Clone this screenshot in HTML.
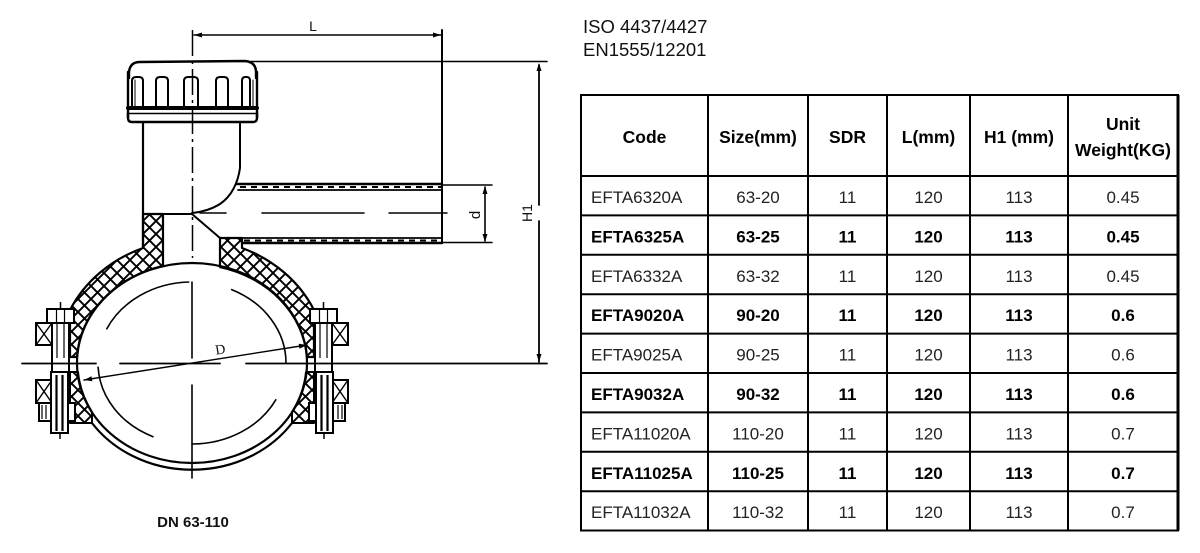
<!DOCTYPE html>
<html><head><meta charset="utf-8">
<style>
html,body{margin:0;padding:0;background:#fff;}
svg{display:block;}
</style></head><body>
<svg width="1200" height="553" viewBox="0 0 1200 553" xmlns="http://www.w3.org/2000/svg">
<defs>
<pattern id="xh" patternUnits="userSpaceOnUse" width="13" height="13">
<path d="M-1,-1 L14,14 M14,-1 L-1,14" stroke="#000" stroke-width="1.9"/>
</pattern>
</defs>
<rect width="1200" height="553" fill="#fff"/>

<!-- ===== DRAWING ===== -->
<g fill="none" stroke="#000" stroke-linecap="round" stroke-linejoin="round">

<!-- saddle hatched parts -->
<path d="M143,214 L163,214 L163,266 A115,100 0 0,0 77,357 L70,357 L70,310 A135,123 0 0,1 143,248 Z" fill="url(#xh)" stroke-width="2.2"/>
<path d="M220,238 L242,238 L242,248 A135,123 0 0,1 314,310 L314,357 L307,357 A115,100 0 0,0 220,267 Z" fill="url(#xh)" stroke-width="2.2"/>

<!-- lower strap hatched parts -->
<path d="M70,372 L78,372 A115,100 0 0,0 92,412 L92,423 L70,423 Z" fill="url(#xh)" stroke-width="2"/>
<path d="M314,372 L306,372 A115,100 0 0,1 292,412 L292,423 L314,423 Z" fill="url(#xh)" stroke-width="2"/>

<!-- main pipe -->
<ellipse cx="192" cy="363" rx="115" ry="100" stroke-width="2.2"/>
<!-- lower strap outer -->
<path d="M92,423 A121,107 0 0,0 292,423" stroke-width="2.2"/>

<!-- hidden arcs -->
<path d="M106.8,328.8 A94,81 0 0,1 188.7,282" stroke-width="1.6"/>
<path d="M231.7,289.6 A94,81 0 0,1 286,363" stroke-width="1.6"/>
<path d="M98.1,367.2 A94,81 0 0,0 153,436.7" stroke-width="1.6"/>
<path d="M275.8,399.8 A94,81 0 0,1 192,444" stroke-width="1.6"/>

<!-- centerlines -->
<line x1="192.5" y1="30" x2="192.5" y2="258" stroke-width="1.5" stroke-dasharray="26 5 3 5" stroke-linecap="butt"/>
<line x1="192" y1="282" x2="192" y2="358" stroke-width="1.6"/>
<line x1="192" y1="385" x2="192" y2="478" stroke-width="1.6"/>
<line x1="22" y1="363.5" x2="96" y2="363.5" stroke-width="1.8"/>
<line x1="120" y1="363.5" x2="220" y2="363.5" stroke-width="1.8"/>
<line x1="246" y1="363.5" x2="547" y2="363.5" stroke-width="1.8"/>
<line x1="200" y1="213" x2="226" y2="213" stroke-width="1.5"/>
<line x1="262" y1="213" x2="364" y2="213" stroke-width="1.5"/>
<line x1="389" y1="213" x2="447" y2="213" stroke-width="1.5"/>

<!-- cap -->
<path d="M129,78 L129,72 Q130,62 140,62 L245,61 Q256,62 256,72 L256,78" stroke-width="2.4"/>
<line x1="128" y1="72" x2="128" y2="118" stroke-width="2.4"/>
<line x1="257" y1="72" x2="257" y2="118" stroke-width="2.4"/>
<line x1="128" y1="108" x2="257" y2="108" stroke-width="4"/>
<line x1="128" y1="113.5" x2="257" y2="113.5" stroke-width="1.6"/>
<path d="M128,113 L128,118 Q128,122 132,122 L253,122 Q257,122 257,118 L257,113" stroke-width="2.4"/>
<path d="M132,107 L132,81 Q132,77 136,77 L139,77 Q143,77 143,81 L143,107" stroke-width="2"/>
<path d="M156,107 L156,81 Q156,77 160,77 L164,77 Q168,77 168,81 L168,107" stroke-width="2"/>
<path d="M184,107 L184,81 Q184,77 188,77 L194,77 Q198,77 198,81 L198,107" stroke-width="2"/>
<path d="M216,107 L216,81 Q216,77 220,77 L224,77 Q228,77 228,81 L228,107" stroke-width="2"/>
<path d="M242,107 L242,81 Q242,77 245,77 L247,77 Q250,77 250,81 L250,107" stroke-width="2"/>
<line x1="135" y1="80" x2="135" y2="107" stroke-width="1"/>
<line x1="253" y1="80" x2="253" y2="107" stroke-width="1"/>

<!-- stem -->
<line x1="143" y1="122" x2="143" y2="248" stroke-width="2.2"/>
<path d="M240,122 L240,168 C238,182 232,196 220,204 C212,209 202,212 192,213" stroke-width="2"/>
<line x1="143" y1="214" x2="192" y2="214" stroke-width="2"/>
<line x1="192" y1="214" x2="220" y2="238" stroke-width="2"/>

<!-- outlet -->
<line x1="236" y1="184" x2="442" y2="184" stroke-width="2.4"/>
<line x1="238" y1="190" x2="442" y2="190" stroke-width="1.8"/>
<line x1="240" y1="187" x2="442" y2="187" stroke-width="2" stroke-dasharray="6 5" stroke-linecap="butt"/>
<line x1="220" y1="238" x2="442" y2="238" stroke-width="1.8"/>
<line x1="242" y1="243" x2="442" y2="243" stroke-width="2.4"/>
<line x1="244" y1="240.5" x2="442" y2="240.5" stroke-width="2" stroke-dasharray="6 5" stroke-linecap="butt"/>

<!-- dimension lines -->
<line x1="442" y1="30" x2="442" y2="243" stroke-width="2"/>
<line x1="194" y1="35" x2="441" y2="35" stroke-width="1.6"/>
<line x1="250" y1="61.5" x2="547" y2="61.5" stroke-width="1.6"/>
<line x1="539" y1="65" x2="539" y2="205" stroke-width="1.8"/>
<line x1="539" y1="221" x2="539" y2="362" stroke-width="1.8"/>
<line x1="442" y1="185" x2="492" y2="185" stroke-width="1.6"/>
<line x1="442" y1="242.5" x2="492" y2="242.5" stroke-width="1.6"/>
<line x1="485" y1="187" x2="485" y2="241" stroke-width="1.6"/>
<line x1="84" y1="380" x2="307" y2="345" stroke-width="1.4"/>
</g>

<g fill="#000">
<polygon points="194,35 202,32.5 202,37.5"/>
<polygon points="441,35 433,32.5 433,37.5"/>
<polygon points="539,63 536.5,71 541.5,71"/>
<polygon points="539,362 536.5,354 541.5,354"/>
<polygon points="485,186 482.5,194 487.5,194"/>
<polygon points="485,242 482.5,234 487.5,234"/>
<polygon points="84,380 92.3,381.2 91.5,376.3"/>
<polygon points="307,345 299.5,348.7 298.7,343.8"/>
</g>

<!-- bolts -->
<g id="bolt" fill="none" stroke="#000" stroke-width="2">
<line x1="323.5" y1="302" x2="323.5" y2="310" stroke-width="1.5"/>
<rect x="310" y="309" width="27" height="14" fill="#fff"/>
<line x1="319.5" y1="309" x2="319.5" y2="323" stroke-width="1.2"/>
<line x1="327.5" y1="309" x2="327.5" y2="323" stroke-width="1.2"/>
<rect x="332" y="323" width="16" height="22" fill="#fff"/>
<path d="M332,323 L348,345 M348,323 L332,345" stroke-width="1.4"/>
<line x1="315" y1="323" x2="315" y2="373"/>
<line x1="332" y1="323" x2="332" y2="373"/>
<line x1="320" y1="323" x2="320" y2="358" stroke-width="1.2"/>
<line x1="327" y1="323" x2="327" y2="358" stroke-width="1.2"/>
<line x1="315" y1="372" x2="332" y2="372"/>
<rect x="309" y="403" width="36" height="18" fill="#fff"/>
<line x1="338" y1="405" x2="338" y2="419" stroke-width="1.2"/>
<line x1="342" y1="405" x2="342" y2="419" stroke-width="1.2"/>
<rect x="332" y="380" width="16" height="23" fill="#fff"/>
<path d="M332,380 L348,403 M348,380 L332,403" stroke-width="1.4"/>
<rect x="316" y="372" width="17" height="61" fill="#fff"/>
<line x1="321.5" y1="375" x2="321.5" y2="431" stroke-width="2.2"/>
<line x1="327.5" y1="375" x2="327.5" y2="431" stroke-width="2.2"/>
<line x1="324" y1="433" x2="324" y2="439" stroke-width="1.5"/>
</g>
<use href="#bolt" transform="translate(384,0) scale(-1,1)"/>

<!-- drawing labels -->
<g font-family="'Liberation Sans', Arial, sans-serif" fill="#111">
<text x="313" y="31" font-size="14" text-anchor="middle">L</text>
<text transform="translate(532,213) rotate(-90)" font-size="14" text-anchor="middle">H1</text>
<text transform="translate(480,215) rotate(-90)" font-size="15" text-anchor="middle">d</text>
<text transform="translate(221,354) rotate(-9)" font-size="14" text-anchor="middle" font-family="'Liberation Serif', serif">D</text>
<text x="193" y="527" font-size="15" font-weight="bold" text-anchor="middle">DN 63-110</text>
</g>

<!-- ===== TEXT / TABLE ===== -->
<g font-family="'Liberation Sans', Arial, sans-serif" fill="#111">
<text x="583" y="33" font-size="18.5">ISO 4437/4427</text>
<text x="583" y="56" font-size="18.5">EN1555/12201</text>
</g>

<g stroke="#000" stroke-width="2" fill="none">
<rect x="581" y="95" width="597" height="435.5"/>
<line x1="1178" y1="95" x2="1178" y2="530.5" stroke-width="3"/>
<line x1="708" y1="95" x2="708" y2="530.5"/>
<line x1="808" y1="95" x2="808" y2="530.5"/>
<line x1="887" y1="95" x2="887" y2="530.5"/>
<line x1="970" y1="95" x2="970" y2="530.5"/>
<line x1="1068" y1="95" x2="1068" y2="530.5"/>
<line x1="581" y1="176" x2="1178" y2="176"/>
<line x1="581" y1="215.4" x2="1178" y2="215.4"/>
<line x1="581" y1="254.8" x2="1178" y2="254.8"/>
<line x1="581" y1="294.2" x2="1178" y2="294.2"/>
<line x1="581" y1="333.6" x2="1178" y2="333.6"/>
<line x1="581" y1="373" x2="1178" y2="373"/>
<line x1="581" y1="412.4" x2="1178" y2="412.4"/>
<line x1="581" y1="451.8" x2="1178" y2="451.8"/>
<line x1="581" y1="491.2" x2="1178" y2="491.2"/>
</g>

<g font-family="'Liberation Sans', Arial, sans-serif" font-size="17.5" font-weight="bold" fill="#000" text-anchor="middle">
<text x="644.5" y="143">Code</text>
<text x="758" y="143">Size(mm)</text>
<text x="847.5" y="143">SDR</text>
<text x="928.5" y="143">L(mm)</text>
<text x="1019" y="143">H1 (mm)</text>
<text x="1123" y="130">Unit</text>
<text x="1123" y="156">Weight(KG)</text>
</g>

<g font-family="'Liberation Sans', Arial, sans-serif" font-size="17" fill="#222">
<g font-weight="normal">
<text x="591" y="203">EFTA6320A</text>
<text x="591" y="281.8">EFTA6332A</text>
<text x="591" y="360.6">EFTA9025A</text>
<text x="591" y="439.4">EFTA11020A</text>
<text x="591" y="518.2">EFTA11032A</text>
</g>
<g font-weight="bold" fill="#000">
<text x="591" y="242.4">EFTA6325A</text>
<text x="591" y="321.2">EFTA9020A</text>
<text x="591" y="400">EFTA9032A</text>
<text x="591" y="478.8">EFTA11025A</text>
</g>
<g text-anchor="middle">
<text x="758" y="203">63-20</text><text x="847.5" y="203">11</text><text x="928.5" y="203">120</text><text x="1019" y="203">113</text><text x="1123" y="203">0.45</text>
<text x="758" y="281.8">63-32</text><text x="847.5" y="281.8">11</text><text x="928.5" y="281.8">120</text><text x="1019" y="281.8">113</text><text x="1123" y="281.8">0.45</text>
<text x="758" y="360.6">90-25</text><text x="847.5" y="360.6">11</text><text x="928.5" y="360.6">120</text><text x="1019" y="360.6">113</text><text x="1123" y="360.6">0.6</text>
<text x="758" y="439.4">110-20</text><text x="847.5" y="439.4">11</text><text x="928.5" y="439.4">120</text><text x="1019" y="439.4">113</text><text x="1123" y="439.4">0.7</text>
<text x="758" y="518.2">110-32</text><text x="847.5" y="518.2">11</text><text x="928.5" y="518.2">120</text><text x="1019" y="518.2">113</text><text x="1123" y="518.2">0.7</text>
</g>
<g text-anchor="middle" font-weight="bold" fill="#000">
<text x="758" y="242.4">63-25</text><text x="847.5" y="242.4">11</text><text x="928.5" y="242.4">120</text><text x="1019" y="242.4">113</text><text x="1123" y="242.4">0.45</text>
<text x="758" y="321.2">90-20</text><text x="847.5" y="321.2">11</text><text x="928.5" y="321.2">120</text><text x="1019" y="321.2">113</text><text x="1123" y="321.2">0.6</text>
<text x="758" y="400">90-32</text><text x="847.5" y="400">11</text><text x="928.5" y="400">120</text><text x="1019" y="400">113</text><text x="1123" y="400">0.6</text>
<text x="758" y="478.8">110-25</text><text x="847.5" y="478.8">11</text><text x="928.5" y="478.8">120</text><text x="1019" y="478.8">113</text><text x="1123" y="478.8">0.7</text>
</g>
</g>
</svg>
</body></html>
